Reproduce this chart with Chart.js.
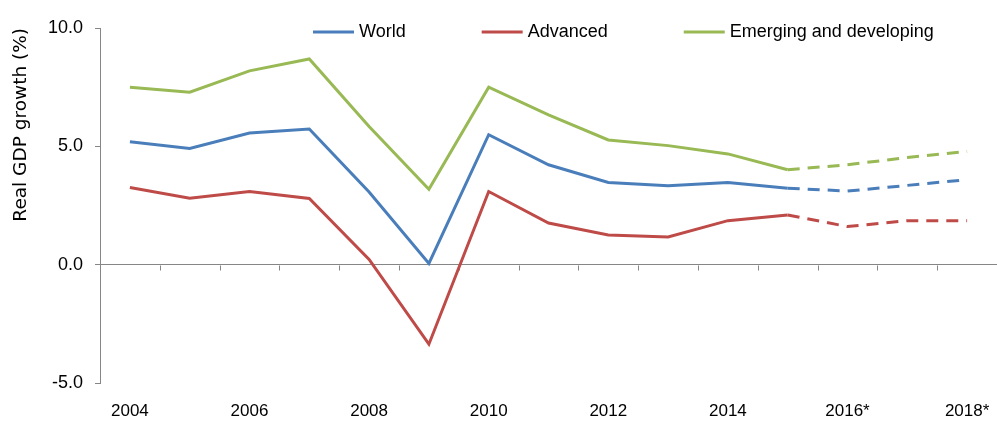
<!DOCTYPE html>
<html>
<head>
<meta charset="utf-8">
<script src="https://cdn.jsdelivr.net/npm/chart.js@4/dist/chart.umd.min.js"></script>
<style>
  html, body { margin: 0; padding: 0; background: #fff; }
  #wrap { width: 997px; height: 421px; position: relative; }
</style>
</head>
<body>
<div id="wrap"><canvas id="chart"></canvas></div>
<script>
'use strict';

const years = ['2004', '2005', '2006', '2007', '2008', '2009', '2010', '2011',
  '2012', '2013', '2014', '2015', '2016*', '2017*', '2018*'];
const world = [5.19, 4.91, 5.56, 5.73, 3.07, 0.05, 5.49, 4.22, 3.47, 3.33, 3.47, 3.23, 3.11, 3.35, 3.59];
const advanced = [3.26, 2.81, 3.09, 2.8, 0.22, -3.36, 3.09, 1.76, 1.25, 1.17, 1.86, 2.1, 1.61, 1.86, 1.86];
const emerging = [7.5, 7.29, 8.19, 8.69, 5.84, 3.19, 7.5, 6.33, 5.27, 5.03, 4.68, 4.01, 4.22, 4.53, 4.78];
const forecastFrom = 11; // lines are dashed after 2015

const AXIS_GREY = '#868686';
const SANS = '"Liberation Sans", Arial, sans-serif';

function makeLine(label, data, color) {
  return {
    label: label,
    data: data,
    borderColor: color,
    backgroundColor: color,
    borderWidth: 3,
    pointRadius: 0,
    tension: 0,
    segment: {
      borderDash: ctx => ctx.p0DataIndex >= forecastFrom ? [12, 8] : undefined,
    },
  };
}

// tick marks hanging from the zero line, between the categories
const zeroAxisTicks = {
  id: 'zeroAxisTicks',
  beforeDatasetsDraw(chart) {
    const xScale = chart.scales.x;
    const y0 = Math.round(chart.scales.y.getPixelForValue(0)) + 0.5;
    const half = (xScale.getPixelForValue(1) - xScale.getPixelForValue(0)) / 2;
    const ctx = chart.ctx;
    ctx.save();
    ctx.strokeStyle = AXIS_GREY;
    ctx.lineWidth = 1;
    ctx.beginPath();
    for (let i = 1; i <= years.length; i++) {
      const x = Math.round(xScale.getPixelForValue(i) - half) + 0.5;
      ctx.moveTo(x, y0);
      ctx.lineTo(x, y0 + 5);
    }
    ctx.stroke();
    ctx.restore();
  },
};

// legend sits inside the plot, over the top of it
const inlineLegend = {
  id: 'inlineLegend',
  afterDraw(chart) {
    const ctx = chart.ctx;
    let x = 313;
    const y = 32;
    ctx.save();
    ctx.font = '18px ' + SANS;
    ctx.textBaseline = 'middle';
    ctx.textAlign = 'left';
    chart.data.datasets.forEach(ds => {
      ctx.strokeStyle = ds.borderColor;
      ctx.lineWidth = 3;
      ctx.beginPath();
      ctx.moveTo(x, y);
      ctx.lineTo(x + 41, y);
      ctx.stroke();
      ctx.fillStyle = '#000';
      ctx.fillText(ds.label, x + 46, y);
      x += 46 + ctx.measureText(ds.label).width + 76;
    });
    ctx.restore();
  },
};

function onContentLoad() {
  const canvas = document.getElementById('chart');

  new Chart(canvas.getContext('2d'), {
    type: 'line',
    data: {
      labels: years,
      datasets: [
        makeLine('World', world, '#4a7ebb'),
        makeLine('Advanced', advanced, '#be4b48'),
        makeLine('Emerging and developing', emerging, '#98b954'),
      ],
    },
    options: {
      responsive: true,
      maintainAspectRatio: false,
      animation: false,
      layout: { padding: { top: 28, right: 0, left: 0, bottom: 0 } },
      plugins: {
        legend: { display: false },
        tooltip: { enabled: false },
      },
      scales: {
        x: {
          type: 'category',
          offset: true,
          // no grid drawn; tickLength only sets the gap above the labels
          grid: { display: false, drawTicks: true, tickLength: 18 },
          border: { display: false },
          ticks: {
            autoSkip: false,
            maxRotation: 0,
            padding: 0,
            color: '#000',
            font: { family: SANS, size: 17 },
            callback: function (value, index) {
              return index % 2 === 0 ? this.getLabelForValue(value) : '';
            },
          },
          afterFit(scale) { scale.height = 38; },
        },
        y: {
          min: -5,
          max: 10,
          border: { display: true, color: AXIS_GREY, width: 1 },
          grid: {
            color: ctx => ctx.tick && ctx.tick.value === 0 ? AXIS_GREY : 'rgba(0,0,0,0)',
            tickColor: AXIS_GREY,
            tickLength: 5,
          },
          ticks: {
            stepSize: 5,
            padding: 12,
            color: '#000',
            font: { family: SANS, size: 18 },
            callback: value => value.toFixed(1),
          },
          title: {
            display: true,
            text: 'Real GDP growth (%)',
            align: 'end',
            color: '#000',
            padding: { top: 10, bottom: 0 },
            font: { family: '"DejaVu Sans", sans-serif', size: 18.5 },
          },
          afterFit(scale) { scale.width = 100; },
        },
      },
    },
    plugins: [zeroAxisTicks, inlineLegend],
  });
}

document.addEventListener('DOMContentLoaded', onContentLoad);
</script>
</body>
</html>
